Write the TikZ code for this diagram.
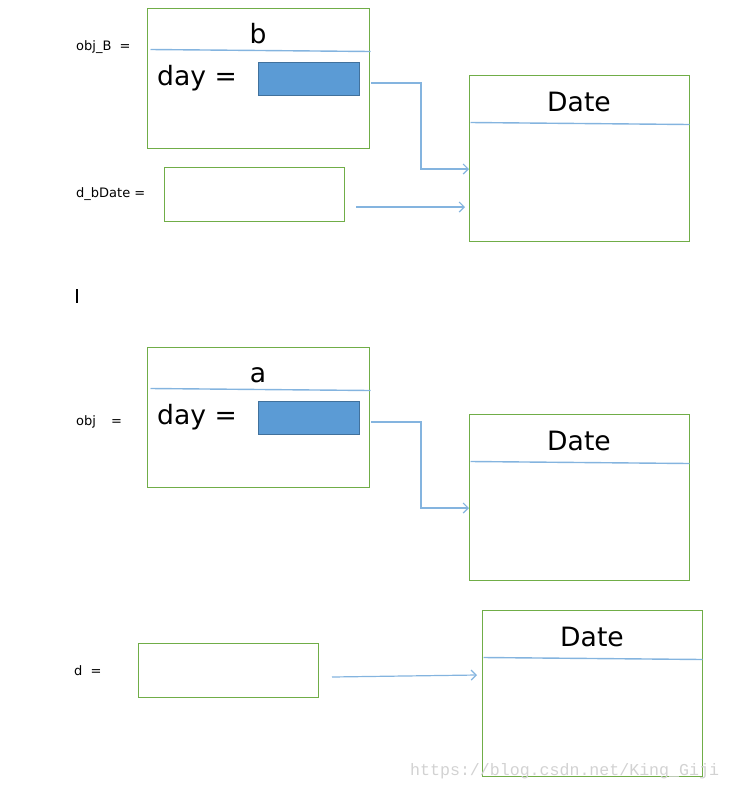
\documentclass[tikz,border=0pt]{standalone}
\usepackage{fontspec}
\setmainfont{DejaVu Sans}
\newfontfamily\markfont{Liberation Mono}
\usetikzlibrary{positioning}
\usetikzlibrary{arrows.meta}
\definecolor{boxgreen}{HTML}{70AD47}
\definecolor{lineblue}{HTML}{5B9BD5}
\definecolor{fieldedge}{HTML}{41719C}
\tikzset{x=1pt,y=-1pt,
    objbox/.style={
        draw=boxgreen,
        line width=1pt,
        inner sep=0pt,
        minimum width=222pt,
        minimum height=140pt},
    refbox/.style={
        draw=boxgreen,
        line width=1pt,
        inner sep=0pt,
        minimum width=180pt,
        minimum height=54pt},
    datebox/.style={
        draw=boxgreen,
        line width=1pt,
        inner sep=0pt,
        minimum width=220pt,
        minimum height=166pt},
    field/.style={
        draw=fieldedge,
        fill=lineblue,
        inner sep=0pt,
        minimum width=101pt,
        minimum height=33pt},
    big/.style={
        font=\fontsize{26.6}{30}\selectfont,
        inner sep=0pt},
    small/.style={
        font=\fontsize{13}{15}\selectfont,
        inner sep=0pt,
        anchor=base west},
    divider/.style={
        draw=lineblue!75,
        line width=1.4pt},
    link/.style={
        draw=lineblue!75,
        line width=1.2pt,
        ->,>={Straight Barb[length=5pt,width=10pt]}}}

\begin{document}
\begin{tikzpicture}
        \useasboundingbox (0,0) rectangle (730,788);

        % b and its Date
        \node[small] (lblB) at (76,50) {obj\_B\ \ =};
        \node[objbox] (objB) at (258,78) {};
        \node[big,anchor=base] (nameB) at (258,43) {b};
        \node[big,anchor=base west] (dayB) at (157,85) {day =};
        \node[field] (fieldB) at (308.5,78.5) {};
        \draw[divider] ([xshift=4pt,yshift=-42pt]objB.north west) -- ([xshift=1pt,yshift=-44pt]objB.north east);

        \node[small] (lblDB) at (76,197) {d\_bDate =};
        \node[refbox] (refDB) at (254,194) {};

        \node[datebox] (date1) at (579,158) {};
        \node[big,anchor=base] (title1) at (579,111) {Date};
        \draw[divider] ([xshift=2pt,yshift=-48pt]date1.north west) -- ([yshift=-50pt]date1.north east);

        \coordinate (outB) at (371,83);
        \coordinate (inB) at (469,169);
        \coordinate (outDB) at (356,207);
        \coordinate (inDB) at (465,207);
        \draw[link] (outB) -- ++(50,0) |- (inB);
        \draw[link] (outDB) -- (inDB);

        % text cursor
        \draw[line width=1.2pt] (77,289) -- (77,303);

        % a and its Date
        \node[small] (lblA) at (76,425) {obj\hspace{15pt}=};
        \node[objbox] (objA) at (258,417) {};
        \node[big,anchor=base] (nameA) at (258,382) {a};
        \node[big,anchor=base west] (dayA) at (157,424) {day =};
        \node[field] (fieldA) at (308.5,417.5) {};
        \draw[divider] ([xshift=4pt,yshift=-42pt]objA.north west) -- ([xshift=1pt,yshift=-44pt]objA.north east);

        \node[datebox] (date2) at (579,497) {};
        \node[big,anchor=base] (title2) at (579,450) {Date};
        \draw[divider] ([xshift=2pt,yshift=-48pt]date2.north west) -- ([yshift=-50pt]date2.north east);

        \coordinate (outA) at (371,422);
        \coordinate (inA) at (469,508);
        \draw[link] (outA) -- ++(50,0) |- (inA);

        % d and its Date
        \node[small] (lblD) at (74,675) {d\ \ =};
        \node[refbox] (refD) at (228,670) {};

        \node[datebox] (date3) at (592,693) {};
        \node[big,anchor=base] (title3) at (592,646) {Date};
        \draw[divider] ([xshift=2pt,yshift=-48pt]date3.north west) -- ([yshift=-50pt]date3.north east);

        \coordinate (outD) at (332,677);
        \coordinate (inD) at (477,675);
        \draw[link] (outD) -- (inD);

        \node[font=\markfont\fontsize{16.6}{18}\selectfont,text=gray!35,inner sep=0pt,anchor=base west] (mark) at (410,775) {https://blog.csdn.net/King\_Giji};
    \end{tikzpicture}
\end{document}
